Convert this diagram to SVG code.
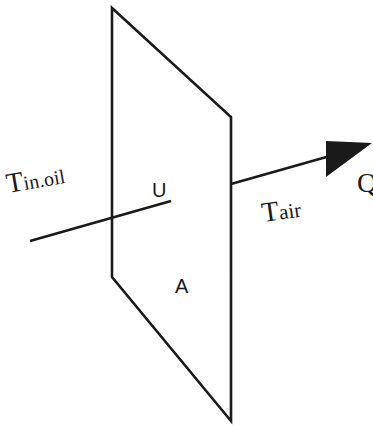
<svg xmlns="http://www.w3.org/2000/svg" width="373" height="425" viewBox="0 0 373 425">
<style>
.ln{fill:none;stroke:#1a1a1a;stroke-width:2.6;stroke-linejoin:miter}
.serif{font-family:"Liberation Serif","Times New Roman",serif;fill:#1a1a1a}
.sans{font-family:"Liberation Sans",Arial,sans-serif;fill:#1a1a1a;font-size:20px}
</style>
<rect width="373" height="425" fill="#fff"/>
<g id="plane">
<polygon class="ln" points="112,8 231,117 231,421 112,277"/>
<text class="sans" x="152" y="197">U</text>
<text class="sans" x="175" y="293">A</text>
</g>
<g id="connectors">
<line class="ln" x1="30" y1="241" x2="171" y2="201"/>
<line class="ln" x1="231" y1="184" x2="330" y2="156"/>
<polygon points="326,141 372,143 326,177" fill="#1a1a1a"/>
</g>
<g id="labels">
<text class="serif" transform="translate(8,193) rotate(-10)" font-size="28">T<tspan font-size="20">in.oil</tspan></text>
<text class="serif" transform="translate(263,222) rotate(-8)" font-size="28">T<tspan font-size="21">air</tspan></text>
<text class="serif" x="357" y="192" font-size="28">Q</text>
</g>
</svg>
